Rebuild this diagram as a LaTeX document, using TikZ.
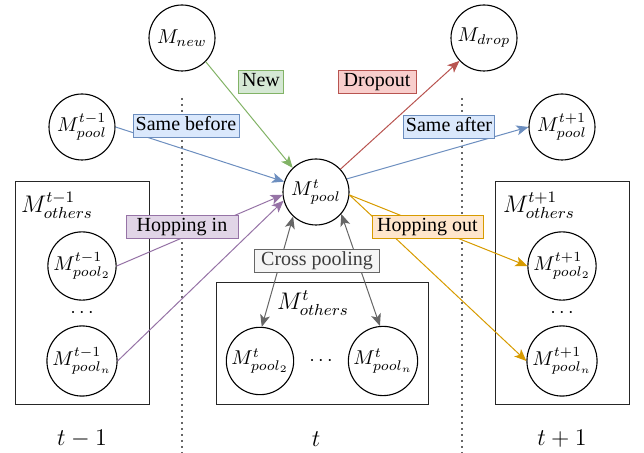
\documentclass[tikz,border=0pt]{standalone}
\usepackage[no-math]{fontspec}
\setmainfont{Liberation Serif}
\usetikzlibrary{arrows.meta, positioning}
\usepackage{xcolor}
\definecolor{lineGreen}{HTML}{82B366}
\definecolor{fillGreen}{HTML}{D5E8D4}
\definecolor{lineBlue}{HTML}{6C8EBF}
\definecolor{fillBlue}{HTML}{DAE8FC}
\definecolor{lineRed}{HTML}{B85450}
\definecolor{fillRed}{HTML}{F8CECC}
\definecolor{linePurple}{HTML}{9673A6}
\definecolor{fillPurple}{HTML}{E1D5E7}
\definecolor{lineOrange}{HTML}{D79B00}
\definecolor{fillOrange}{HTML}{FFE6CC}
\definecolor{lineGray}{HTML}{666666}
\definecolor{fillGray}{HTML}{F5F5F5}
\tikzset{
    >={Stealth[length=6pt, width=5pt, inset=1.5pt]},
    % Shapes
    model/.style={circle, draw, line width=0.55pt, minimum size=33pt, inner sep=1pt},
    group/.style={rectangle, draw=black!85, line width=0.5pt},
    grouplbl/.style={font=\large, inner sep=0pt},
    timelbl/.style={font=\large, inner sep=0pt},
    sep/.style={draw=lineGray, line width=0.9pt, dash pattern=on 0.9pt off 2.1pt},
    % Flow & Labels
    flow/.style={->, line width=0.5pt},
    lbl/.style={draw, line width=0.5pt, inner xsep=1pt, inner ysep=1pt,
                text height=7pt, text depth=2.2pt, font=\fontsize{10}{12}\selectfont},
    lblGreen/.style={lbl, draw=lineGreen, fill=fillGreen},
    lblBlue/.style={lbl, draw=lineBlue, fill=fillBlue},
    lblRed/.style={lbl, draw=lineRed, fill=fillRed},
    lblPurple/.style={lbl, draw=linePurple, fill=fillPurple},
    lblOrange/.style={lbl, draw=lineOrange, fill=fillOrange},
    lblGray/.style={lbl, draw=lineGray, fill=fillGray, text=lineGray!60!black}
}

\begin{document}
\begin{tikzpicture}[x=0.5pt, y=-0.5pt]
\useasboundingbox (0,0) rectangle (644,453);

% time separators
\draw[sep] (182,98) -- (182,453);
\draw[sep] (462,98) -- (462,453);

% other pools per time step
\node[group, minimum width=67pt, minimum height=111.5pt] (othersPrev) at (82,293.5) {};
\node[group, minimum width=106pt, minimum height=61pt] (othersCur) at (322,344) {};
\node[group, minimum width=67pt, minimum height=111.5pt] (othersNext) at (562,293.5) {};
\node[grouplbl] (othersPrevLbl) at (57,205) {$M^{t-1}_{others}$};
\node[grouplbl] (othersCurLbl) at (313,303) {$M^{t}_{others}$};
\node[grouplbl] (othersNextLbl) at (539,205) {$M^{t+1}_{others}$};

% models
\node[model] (new) at (182,38) {$M_{new}$};
\node[model] (drop) at (484,38) {$M_{drop}$};
\node[model] (poolPrev) at (82,127) {$M^{t-1}_{pool}$};
\node[model] (poolNext) at (562,127) {$M^{t+1}_{pool}$};
\node[model] (pool) at (316,192) {$M^{t}_{pool}$};
\node[model] (prevTwo) at (82,266) {$M^{t-1}_{pool_2}$};
\node[model] (prevN) at (82,361) {$M^{t-1}_{pool_n}$};
\node[model] (curTwo) at (260,361) {$M^{t}_{pool_2}$};
\node[model] (curN) at (383,361) {$M^{t}_{pool_n}$};
\node[model] (nextTwo) at (562,266) {$M^{t+1}_{pool_2}$};
\node[model] (nextN) at (562,361) {$M^{t+1}_{pool_n}$};
\node (dotsPrev) at (82,313) {$\cdots$};
\node (dotsCur) at (321,361) {$\cdots$};
\node (dotsNext) at (562,313) {$\cdots$};

% time steps
\node[timelbl] (tPrev) at (82,439) {$t-1$};
\node[timelbl] (tCur) at (316,439) {$t$};
\node[timelbl] (tNext) at (562,439) {$t+1$};

% flows
\draw[flow, lineGreen] (new.-45) -- (pool.134);
\draw[flow, lineBlue] (poolPrev.east) -- (pool.162);
\draw[flow, lineRed] (pool.43) -- (drop.223);
\draw[flow, lineBlue] (pool.23) -- (poolNext.west);
\draw[flow, linePurple] (prevTwo.east) -- (pool.185);
\draw[flow, linePurple] (prevN.east) -- (pool.195);
\draw[flow, lineOrange] (pool.-5) -- (nextTwo.west);
\draw[flow, lineOrange] (pool.-5) -- (nextN.west);
\draw[flow, <->, lineGray] (pool.227) -- (curTwo.87);
\draw[flow, <->, lineGray] (pool.-41) -- (curN.95);

% flow labels
\node[lblGreen, minimum width=22.5pt] (newLbl) at (261,82) {New};
\node[lblRed, minimum width=39pt] (dropLbl) at (377,82) {Dropout};
\node[lblBlue, minimum width=53pt] (beforeLbl) at (186,126) {Same before};
\node[lblBlue, minimum width=45pt] (afterLbl) at (449,127) {Same after};
\node[lblPurple, minimum width=56pt] (inLbl) at (182,227) {Hopping in};
\node[lblOrange, minimum width=55.5pt] (outLbl) at (427.5,227) {Hopping out};
\node[lblGray, minimum width=62.5pt] (crossLbl) at (317,261) {Cross pooling};

\end{tikzpicture}
\end{document}
